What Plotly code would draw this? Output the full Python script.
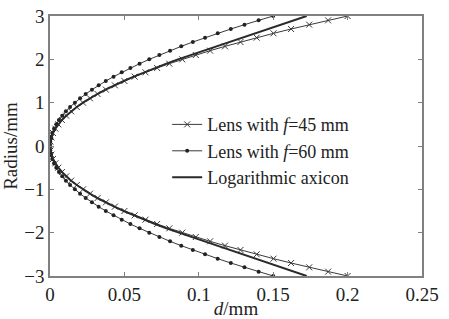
import plotly.graph_objects as go

radius_mm = [-3.0, -2.9, -2.8, -2.7, -2.6, -2.5, -2.4, -2.3, -2.2, -2.1, -2.0, -1.9, -1.8, -1.7, -1.6,
             -1.5, -1.4, -1.3, -1.2, -1.1, -1.0, -0.9, -0.8, -0.7, -0.6, -0.5, -0.4, -0.3, -0.2, -0.1,
             0.0, 0.1, 0.2, 0.3, 0.4, 0.5, 0.6, 0.7, 0.8, 0.9, 1.0, 1.1, 1.2, 1.3, 1.4, 1.5, 1.6, 1.7,
             1.8, 1.9, 2.0, 2.1, 2.2, 2.3, 2.4, 2.5, 2.6, 2.7, 2.8, 2.9, 3.0]

d_lens_f45 = [0.2000, 0.1869, 0.1742, 0.1620, 0.1502, 0.1389, 0.1280, 0.1176, 0.1076, 0.0980, 0.0889,
              0.0802, 0.0720, 0.0642, 0.0569, 0.0500, 0.0436, 0.0376, 0.0320, 0.0269, 0.0222, 0.0180,
              0.0142, 0.0109, 0.0080, 0.0056, 0.0036, 0.0020, 0.0009, 0.0002, 0.0,
              0.0002, 0.0009, 0.0020, 0.0036, 0.0056, 0.0080, 0.0109, 0.0142, 0.0180, 0.0222, 0.0269,
              0.0320, 0.0376, 0.0436, 0.0500, 0.0569, 0.0642, 0.0720, 0.0802, 0.0889, 0.0980, 0.1076,
              0.1176, 0.1280, 0.1389, 0.1502, 0.1620, 0.1742, 0.1869, 0.2000]

d_lens_f60 = [0.1500, 0.1402, 0.1307, 0.1215, 0.1127, 0.1042, 0.0960, 0.0882, 0.0807, 0.0735, 0.0667,
              0.0602, 0.0540, 0.0482, 0.0427, 0.0375, 0.0327, 0.0282, 0.0240, 0.0202, 0.0167, 0.0135,
              0.0107, 0.0082, 0.0060, 0.0042, 0.0027, 0.0015, 0.0007, 0.0002, 0.0,
              0.0002, 0.0007, 0.0015, 0.0027, 0.0042, 0.0060, 0.0082, 0.0107, 0.0135, 0.0167, 0.0202,
              0.0240, 0.0282, 0.0327, 0.0375, 0.0427, 0.0482, 0.0540, 0.0602, 0.0667, 0.0735, 0.0807,
              0.0882, 0.0960, 0.1042, 0.1127, 0.1215, 0.1307, 0.1402, 0.1500]

d_log_axicon = [0.1725, 0.1639, 0.1552, 0.1466, 0.1379, 0.1293, 0.1206, 0.1120, 0.1033, 0.0947, 0.0860,
                0.0782, 0.0706, 0.0633, 0.0563, 0.0496, 0.0432, 0.0373, 0.0318, 0.0268, 0.0222, 0.0180,
                0.0142, 0.0109, 0.0080, 0.0056, 0.0036, 0.0020, 0.0009, 0.0002, 0.0,
                0.0002, 0.0009, 0.0020, 0.0036, 0.0056, 0.0080, 0.0109, 0.0142, 0.0180, 0.0222, 0.0268,
                0.0318, 0.0373, 0.0432, 0.0496, 0.0563, 0.0633, 0.0706, 0.0782, 0.0860, 0.0947, 0.1033,
                0.1120, 0.1206, 0.1293, 0.1379, 0.1466, 0.1552, 0.1639, 0.1725]

series_names = ["Lens with <i>f</i>=45 mm", "Lens with <i>f</i>=60 mm", "Logarithmic axicon"]

LINE = "#3a3a3a"
AXIS = "#808080"
FONT = "Liberation Serif"
FS = 19
LFS = 18

fig = go.Figure()
fig.add_trace(go.Scatter(
    x=d_lens_f45, y=radius_mm, name=series_names[0], mode="lines+markers",
    line=dict(color=LINE, width=1),
    marker=dict(symbol="x-thin", size=6, line=dict(color=LINE, width=1), color=LINE),
))
fig.add_trace(go.Scatter(
    x=d_lens_f60, y=radius_mm, name=series_names[1], mode="lines+markers",
    line=dict(color=LINE, width=1),
    marker=dict(symbol="circle", size=4, color="#222222"),
))
fig.add_trace(go.Scatter(
    x=d_log_axicon, y=radius_mm, name=series_names[2], mode="lines",
    line=dict(color="#2a2a2a", width=2),
))

axis_common = dict(
    showline=True, linecolor=AXIS, linewidth=1.5, mirror="allticks",
    ticks="inside", ticklen=4, tickcolor=AXIS, tickwidth=1,
    showgrid=False, zeroline=False, automargin=False,
    tickfont=dict(family=FONT, size=FS, color="#222222"),
)

fig.update_layout(
    width=449, height=319,
    margin=dict(l=50, r=27, t=16, b=43),
    paper_bgcolor="white", plot_bgcolor="white",
    font=dict(family=FONT, size=FS, color="#222222"),
    showlegend=True,
    legend=dict(x=0.315, y=0.48, xanchor="left", yanchor="middle",
                bgcolor="rgba(0,0,0,0)", borderwidth=0,
                font=dict(family=FONT, size=LFS, color="#222222"),
                tracegroupgap=0, itemwidth=30),
    xaxis=dict(range=[0, 0.25], tickvals=[0, 0.05, 0.1, 0.15, 0.2, 0.25],
               ticktext=["0", "0.05", "0.1", "0.15", "0.2", "0.25"],
               title=dict(text="<i>d</i>/mm", standoff=2,
                          font=dict(family=FONT, size=FS, color="#222222")),
               **axis_common),
    yaxis=dict(range=[-3, 3], tickvals=[-3, -2, -1, 0, 1, 2, 3],
               ticktext=["\u22123", "\u22122", "\u22121", "0", "1", "2", "3"],
               title=dict(text="Radius/mm", standoff=2,
                          font=dict(family=FONT, size=FS, color="#222222")),
               **axis_common),
)

fig.write_html("out.html",
               config={"displayModeBar": False},
               post_script="document.body.style.margin='0px';document.body.style.overflow='hidden';")
